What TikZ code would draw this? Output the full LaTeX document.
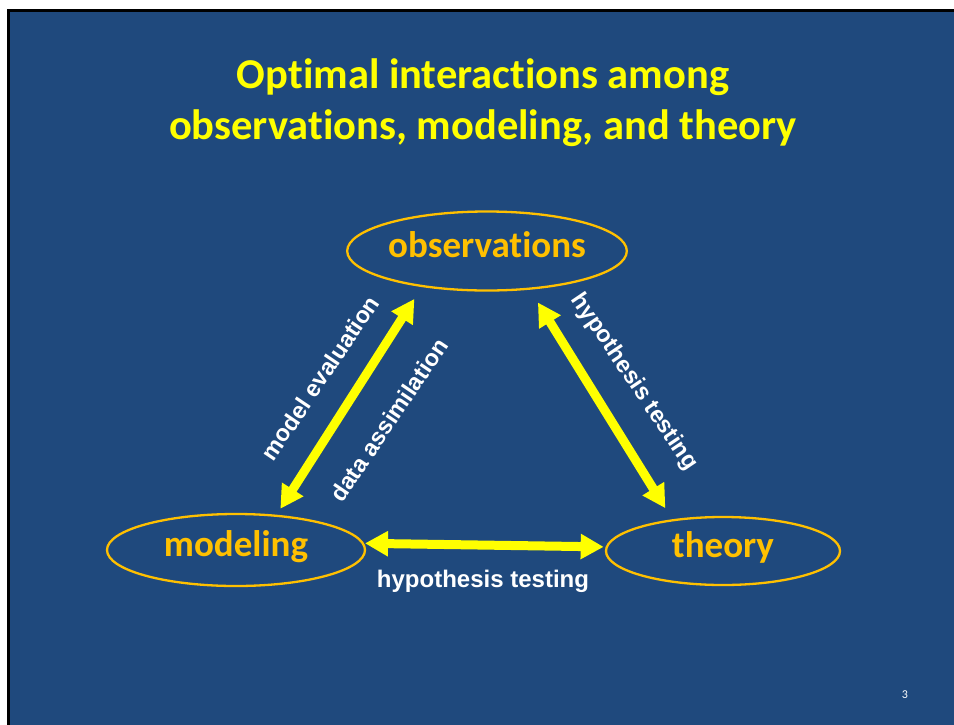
\documentclass[tikz,border=0pt]{standalone}
\usepackage{fontspec}
\setmainfont{Carlito}[Ligatures=NoCommon]
\newfontfamily\arial{Liberation Sans}
\usepackage{tikz}
\usetikzlibrary{arrows.meta,shapes.geometric}
\definecolor{slide}{HTML}{1F497D}
\definecolor{gold}{HTML}{FFC000}
\definecolor{lemon}{HTML}{FFFF00}

\begin{document}
\begin{tikzpicture}[
  x=1pt, y=-1pt,
  topic/.style={ellipse, draw=gold, line width=2.3pt, inner sep=0pt, text=gold,
    font=\fontsize{37}{40}\selectfont\bfseries, text height=14pt, text depth=2pt},
  link/.style={text=white, font=\arial\fontsize{23.5}{26}\selectfont\bfseries, inner sep=0pt},
  arr/.style={{Triangle[length=23pt, width=24pt]}-{Triangle[length=23pt, width=24pt]}, lemon, line width=9pt}
]
\useasboundingbox (0,0) rectangle (954,724);
\fill[white] (0,0) rectangle (954,724);
\draw[line width=3pt, fill=slide] (8.5,10.5) rectangle (970,740);

\node[text=lemon, align=center, font=\fontsize{42.5}{51}\selectfont\bfseries] (title) at (483,103)
  {Optimal interactions among\\observations, modeling, and theory};

\node[topic, minimum width=258pt, minimum height=79pt] (obs) at (487,251) {observations};
\node[topic, minimum width=258pt, minimum height=72pt] (model) at (236,550) {modeling};
\node[topic, minimum width=234pt, minimum height=68pt] (theory) at (723,551) {theory};

\draw[arr, shorten <=7pt, shorten >=14pt] (model.41) -- (obs.209);
\draw[arr, shorten <=15pt, shorten >=13pt] (obs.318) -- (theory.148);
\draw[arr, shorten <=1pt, shorten >=2pt] (model.3) -- (theory.178);

\node[link, rotate=56] (eval) at (320,378) {model evaluation};
\node[link, rotate=56] (assim) at (389,420) {data assimilation};
\node[link, rotate=-56] (testa) at (634,382) {hypothesis testing};
\node[link, font=\arial\fontsize{24}{26}\selectfont\bfseries] (testb) at (483,581) {hypothesis testing};

\node[text=white, font=\fontsize{12}{14}\selectfont] (page) at (905,695) {3};
\end{tikzpicture}
\end{document}
